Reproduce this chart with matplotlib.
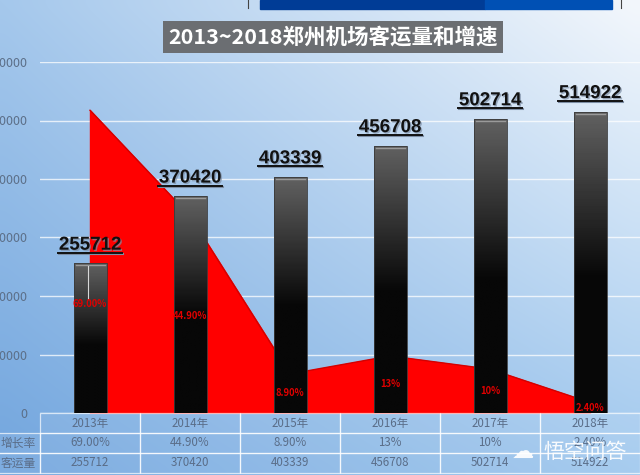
"""Zhengzhou airport passengers 2013-2018: bars plus growth-rate area, with a data table."""
import matplotlib
matplotlib.use("Agg")
import matplotlib.pyplot as plt
import matplotlib.patheffects as pe
import numpy as np
from matplotlib.lines import Line2D
from matplotlib.patches import Rectangle

plt.rcParams["font.family"] = ["Noto Sans CJK SC", "DejaVu Sans"]

YEARS = ["2013年", "2014年", "2015年", "2016年", "2017年", "2018年"]
PASSENGERS = [255712, 370420, 403339, 456708, 502714, 514922]
GROWTH = [0.69, 0.449, 0.089, 0.13, 0.10, 0.024]
GROWTH_LABELS = ["69.00%", "44.90%", "8.90%", "13%", "10%", "2.40%"]
ROW_NAMES = ["增长率", "客运量"]
TITLE = "2013~2018郑州机场客运量和增速"

# where the red % labels sit, as a share of each growth value
LABEL_SHARE = [0.36, 0.49, 0.5, 0.5, 0.5, 0.5]

W, H = 640, 475
fig = plt.figure(figsize=(W / 100, H / 100), dpi=100)

# background gradient over the whole figure
bg = fig.add_axes([0, 0, 1, 1], zorder=-10)
bg.axis("off")
tl = np.array([165, 200, 236]) / 255
tr = np.array([243, 247, 252]) / 255
bl = np.array([115, 166, 222]) / 255
br = np.array([160, 200, 238]) / 255
u = np.linspace(0, 1, 64)[None, :, None]
v = np.linspace(0, 1, 48)[:, None, None]
grad = (1 - v) * ((1 - u) * tl + u * tr) + v * ((1 - u) * bl + u * br)
bg.imshow(grad, aspect="auto", extent=[0, 1, 0, 1], interpolation="bicubic")
bg.set_xlim(0, 1)
bg.set_ylim(0, 1)
# piece of the neighbouring picture at the top
bg.add_patch(Rectangle((260 / W, 1 - 9 / H), 225 / W, 9 / H, color="#003c96"))
bg.add_patch(Rectangle((485 / W, 1 - 9 / H), 127 / W, 9 / H, color="#0050b4"))
bg.plot([248 / W, 248 / W], [1, 1 - 8 / H], color="#444", lw=0.8)
bg.plot([621 / W, 621 / W], [1, 1 - 8 / H], color="#444", lw=0.8)

rect = [40 / W, 1 - 413 / H, 1 - 40 / W, (413 - 62) / H]
ax2 = fig.add_axes(rect, zorder=1)
ax = fig.add_axes(rect, zorder=2)
for a in (ax, ax2):
    a.patch.set_visible(False)
    for s in a.spines.values():
        s.set_visible(False)

x = np.arange(len(YEARS))

# growth area (behind the bars)
ax2.fill_between(x, 0, GROWTH, color="#ff0000", zorder=2)
ax2.plot(x, GROWTH, color="#d40000", lw=1.0, zorder=3)
ax2.set_ylim(0, 0.8)
ax2.set_xlim(-0.5, 5.5)
ax2.set_yticks(np.linspace(0, 0.8, 7))
ax2.set_yticklabels([])
ax2.set_xticks([])
ax2.tick_params(length=0)
ax2.grid(axis="y", color="white", lw=1.0, alpha=0.75, zorder=0)

# gradient bars
width = 0.33
bar_grad = np.concatenate([np.linspace(0.38, 0.03, 55), np.full(45, 0.03)])
bar_img = np.repeat(bar_grad[:, None], 2, axis=1)
for xi, val in zip(x, PASSENGERS):
    r = Rectangle((xi - width / 2, 0), width, val, facecolor="none",
                  edgecolor="#3a3a3a", lw=0.6, zorder=3)
    ax.add_patch(r)
    im = ax.imshow(bar_img, cmap="gray", vmin=0, vmax=1, aspect="auto",
                   extent=[xi - width / 2, xi + width / 2, 0, val],
                   interpolation="bilinear", zorder=2)
    im.set_clip_path(r)
    ax.plot([xi - width / 2 + 0.02, xi + width / 2 - 0.02], [val - 3500, val - 3500],
            color="#9a9a9a", lw=1.0, zorder=4)

ax.set_xlim(-0.5, 5.5)
ax.set_ylim(0, 600000)
ax.set_xticks([])
ax.set_yticks(np.arange(0, 600001, 100000))
ax.tick_params(axis="y", length=0, pad=9, labelsize=9, labelcolor="#5c6f88")

# value labels above bars
value_texts = []
for xi, val in zip(x, PASSENGERS):
    t = ax.annotate(f"{val}", (xi, val), xytext=(0, 7), textcoords="offset points",
                    ha="center", va="bottom", fontsize=13.5, fontweight="bold",
                    family=["Liberation Sans", "DejaVu Sans"], color="#111111",
                    zorder=6, annotation_clip=False,
                    path_effects=[pe.SimplePatchShadow(offset=(1.0, -1.0), shadow_rgbFace="#7d8ea5", alpha=0.7),
                                  pe.Normal()])
    value_texts.append(t)

# red percentage labels inside the bars
for xi, g, lab, share in zip(x, GROWTH, GROWTH_LABELS, LABEL_SHARE):
    yv = g * share * 600000 / 0.8
    ax.text(xi, yv, lab, ha="center", va="center", fontsize=6.8,
            color="#e00000", fontweight="bold", zorder=6)
# leader line of the first label
ax.plot([x[0] - 0.02, x[0] - 0.02], [PASSENGERS[0] - 4000, GROWTH[0] * LABEL_SHARE[0] * 600000 / 0.8 + 9000],
        color="#d8d8d8", lw=0.8, zorder=5)

# data table under the plot
row_h = 20 / (413 - 62)
cell_kw = dict(transform=ax.get_xaxis_transform(), clip_on=False)
line_c = (1, 1, 1, 0.7)
rows = [YEARS, GROWTH_LABELS, [str(p) for p in PASSENGERS]]
for ri, row in enumerate(rows):
    y0 = -row_h * (ri + 1)
    for xi, txt in zip(x, row):
        ax.add_patch(Rectangle((xi - 0.5, y0), 1, row_h, facecolor=(1, 1, 1, 0.08),
                               edgecolor=line_c, lw=0.9, **cell_kw))
        ax.text(xi, y0 + row_h / 2, txt, ha="center", va="center", fontsize=8.3,
                color="#5a6d88", **cell_kw)
    if ri > 0:
        ax.add_patch(Rectangle((-0.95, y0), 0.45, row_h, facecolor=(1, 1, 1, 0.08),
                               edgecolor=line_c, lw=0.9, **cell_kw))
        ax.text(-0.72, y0 + row_h / 2, ROW_NAMES[ri - 1], ha="center", va="center",
                fontsize=8.5, color="#5a6d88", **cell_kw)

# title
fig.text(333 / W, 1 - 37 / H, TITLE, ha="center", va="center", fontsize=15.5,
         color="white", fontweight="bold",
         bbox=dict(boxstyle="square,pad=0.25", facecolor="#6b6e72", edgecolor="none"))

# watermark
fig.text(585 / W, 1 - 452 / H, "悟空问答", ha="center", va="center", fontsize=15,
         color="white", alpha=0.92, zorder=20)
fig.text(523 / W, 1 - 452 / H, "☁", ha="center", va="center", fontsize=16,
         color="white", alpha=0.92, zorder=20, family=["DejaVu Sans"])

# underline the value labels
fig.canvas.draw()
renderer = fig.canvas.get_renderer()
for t in value_texts:
    bb = t.get_window_extent(renderer)
    yy = (bb.y0 + 1) / H
    for off, col, lw in ((1.0, "#7d8ea5", 1.5), (0, "#111111", 1.4)):
        fig.add_artist(Line2D([(bb.x0 - 1 + off) / W, (bb.x1 + 1 + off) / W],
                              [yy - off / H, yy - off / H], color=col, lw=lw, zorder=7))

fig.savefig("out.png", dpi=100)
